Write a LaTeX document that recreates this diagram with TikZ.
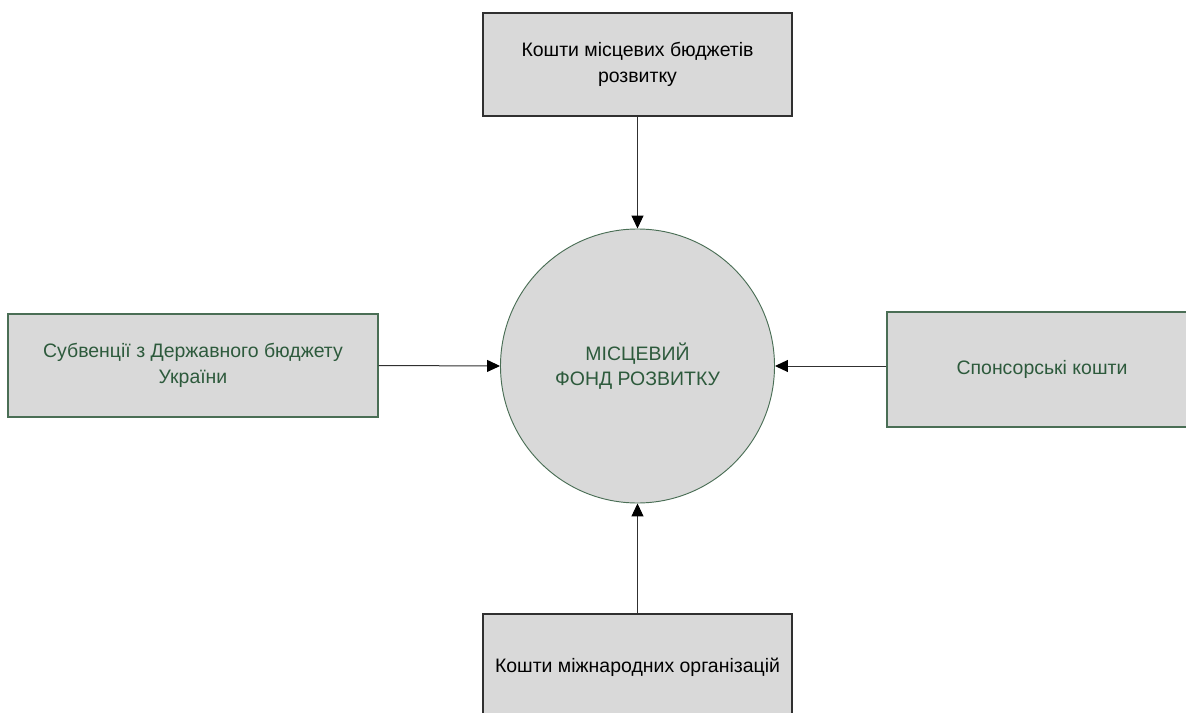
\documentclass[tikz,border=0pt]{standalone}
\usepackage{fontspec}
\setmainfont{Liberation Sans}
\usetikzlibrary{arrows.meta}
\definecolor{boxfill}{HTML}{D9D9D9}
\definecolor{txtgreen}{HTML}{2D5A3C}
\definecolor{edgegreen}{HTML}{4A6E55}
\definecolor{edgegray}{HTML}{303030}
\tikzset{
  srcbox/.style={draw=edgegray, fill=boxfill, line width=0.9pt, inner sep=0pt,
    align=center, font=\fontsize{14.6}{19}\selectfont, text=black},
  greenbox/.style={srcbox, draw=edgegreen, text=txtgreen},
  fund/.style={circle, draw=edgegreen, fill=boxfill, line width=0.7pt, inner sep=0pt,
    minimum size=205.5pt, align=center, font=\fontsize{14.6}{19}\selectfont, text=txtgreen},
  flow/.style={draw=edgegray, line width=0.75pt, -{Triangle[length=9.75pt,width=9pt,color=black]}}
}
\begin{document}
\begin{tikzpicture}[x=0.75pt,y=-0.75pt]
\useasboundingbox (0,0) rectangle (1186,713);
\clip (0,0) rectangle (1186,713);
\node[fund] (fund) at (637.5,366) {МІСЦЕВИЙ\\ФОНД РОЗВИТКУ};
\node[srcbox, minimum width=231.75pt, minimum height=77.25pt] (top) at (637.5,64.5) {Кошти місцевих бюджетів\\розвитку};
\node[greenbox, minimum width=277.5pt, minimum height=77.25pt] (left) at (193,365.5) {Субвенції з Державного бюджету\\України};
\node[greenbox, minimum width=232.5pt, minimum height=86.25pt] (right) at (1042,369.5) {Спонсорські кошти};
\node[srcbox, minimum width=231.75pt, minimum height=79.5pt] (bottom) at (637.5,667) {Кошти міжнародних організацій};
\draw[flow] (top.south) -- (fund.north);
\draw[flow] (bottom.north) -- (fund.south);
\draw[flow] (left.east) -- (fund.west);
\draw[flow] (right.west |- fund.east) -- (fund.east);
\end{tikzpicture}
\end{document}
